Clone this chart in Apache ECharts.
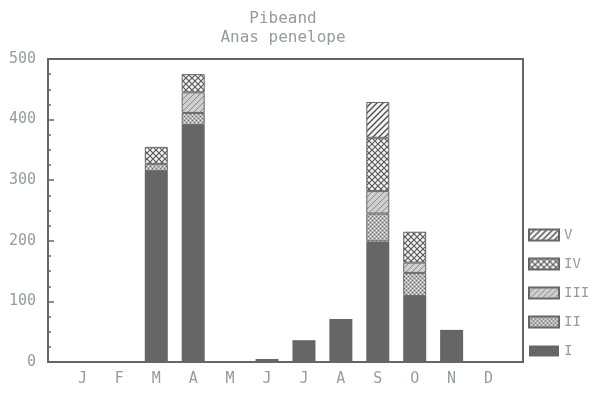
<!DOCTYPE html>
<html>
<head>
<meta charset="utf-8">
<script src="https://cdn.jsdelivr.net/npm/echarts@6/dist/echarts.min.js"></script>
<style>
  html, body { margin: 0; padding: 0; background: #fff; }
  #chart { width: 596px; height: 396px; }
</style>
</head>
<body>
<div id="chart"></div>
<script>
// Monthly counts of wigeon, stacked by class I–V
const months = ['J', 'F', 'M', 'A', 'M', 'J', 'J', 'A', 'S', 'O', 'N', 'D'];
const classNames = ['I', 'II', 'III', 'IV', 'V'];
const classI   = [0, 0, 315, 391, 0, 5, 36, 71, 199, 109, 53, 0];
const classII  = [0, 0, 12, 20, 0, 0, 0, 0, 46, 38, 0, 0];
const classIII = [0, 0, 0, 34, 0, 0, 0, 0, 37, 17, 0, 0];
const classIV  = [0, 0, 28, 30, 0, 0, 0, 0, 88, 51, 0, 0];
const classV   = [0, 0, 0, 0, 0, 0, 0, 0, 59, 0, 0, 0];
const yTicks = [0, 100, 200, 300, 400, 500];

const ink = '#666666';
const textGrey = '#939d9d';
const font = '"DejaVu Sans Mono", "Liberation Mono", monospace';

// Small repeating tiles used as hatch fills
function tile(size, draw) {
  const c = document.createElement('canvas');
  c.width = size; c.height = size;
  const g = c.getContext('2d');
  draw(g, size);
  return { image: c, repeat: 'repeat' };
}
const fillII = tile(4, (g, s) => {
  g.fillStyle = '#b4b4b4'; g.fillRect(0, 0, s, s);
  g.fillStyle = '#6c6c6c';
  g.fillRect(0, 0, 1, 1); g.fillRect(2, 2, 1, 1);
  g.fillStyle = '#eeeeee';
  g.fillRect(2, 0, 1, 1); g.fillRect(0, 2, 1, 1);
});
const fillIII = tile(6, (g, s) => {
  g.fillStyle = '#cfcfcf'; g.fillRect(0, 0, s, s);
  g.strokeStyle = '#8a8a8a'; g.lineWidth = 1;
  g.beginPath();
  g.moveTo(0, s); g.lineTo(s, 0);
  g.moveTo(-1, 1); g.lineTo(1, -1);
  g.moveTo(s - 1, s + 1); g.lineTo(s + 1, s - 1);
  g.stroke();
});
const fillIV = tile(6, (g, s) => {
  g.fillStyle = '#f4f4f4'; g.fillRect(0, 0, s, s);
  g.strokeStyle = '#5a5a5a'; g.lineWidth = 1.2;
  g.beginPath();
  g.moveTo(0, 0); g.lineTo(s, s);
  g.moveTo(0, s); g.lineTo(s, 0);
  g.stroke();
});
const fillV = tile(6, (g, s) => {
  g.fillStyle = '#f6f6f6'; g.fillRect(0, 0, s, s);
  g.strokeStyle = '#4e4e4e'; g.lineWidth = 1.4;
  g.beginPath();
  g.moveTo(0, s); g.lineTo(s, 0);
  g.moveTo(-2, 2); g.lineTo(2, -2);
  g.moveTo(s - 2, s + 2); g.lineTo(s + 2, s - 2);
  g.stroke();
});

const seriesDefs = [
  { name: 'I', data: classI, fill: ink, border: 0 },
  { name: 'II', data: classII, fill: fillII, border: 1 },
  { name: 'III', data: classIII, fill: fillIII, border: 1 },
  { name: 'IV', data: classIV, fill: fillIV, border: 1 },
  { name: 'V', data: classV, fill: fillV, border: 1 }
];

const chart = echarts.init(document.getElementById('chart'), null, { renderer: 'canvas' });

chart.setOption({
  animation: false,
  backgroundColor: '#ffffff',
  title: {
    text: 'Pibeand\nAnas penelope',
    left: 283, top: 9, padding: 0,
    textAlign: 'center',
    textStyle: { fontFamily: font, fontSize: 16, fontWeight: 'normal', color: textGrey, lineHeight: 19 }
  },
  legend: {
    orient: 'vertical',
    left: 528, top: 228, padding: 0,
    itemWidth: 30, itemHeight: 11, itemGap: 15,
    icon: 'rect',
    data: classNames.slice().reverse(),
    textStyle: { fontFamily: font, fontSize: 14, color: textGrey, lineHeight: 11, height: 11 }
  },
  grid: [
    // bar area (category slots)
    { left: 64, right: 89, top: 59, bottom: 34 },
    // framed plot box carrying the value axis
    { left: 48, right: 73, top: 59, bottom: 34, show: true, borderColor: ink, borderWidth: 2, backgroundColor: 'transparent' }
  ],
  xAxis: [
    {
      type: 'category', gridIndex: 0, data: months,
      axisLine: { show: false }, axisTick: { show: false },
      axisLabel: { fontFamily: font, fontSize: 15, color: textGrey, margin: 10 }
    },
    { type: 'value', gridIndex: 1, show: false, min: 0, max: 1 }
  ],
  yAxis: [
    { type: 'value', gridIndex: 0, min: 0, max: 500, interval: 100, show: false },
    {
      type: 'value', gridIndex: 1, min: 0, max: 500, interval: 100,
      axisLine: { show: false },
      splitLine: { show: false },
      axisTick: { show: true, inside: true, length: 6, lineStyle: { color: ink, width: 1.5 } },
      minorTick: { show: true, splitNumber: 4, length: 3, lineStyle: { color: ink, width: 1.5 } },
      axisLabel: {
        fontFamily: font, fontSize: 15, color: textGrey, margin: 12,
        formatter: v => (yTicks.includes(v) ? String(v) : '')
      }
    }
  ],
  series: seriesDefs.map(d => ({
    name: d.name,
    type: 'bar',
    xAxisIndex: 0, yAxisIndex: 0,
    stack: 'total',
    barWidth: 23,
    data: d.data.map(v => (v > 0 ? v : '-')),
    itemStyle: { color: d.fill, borderColor: ink, borderWidth: d.border }
  }))
});
</script>
</body>
</html>
